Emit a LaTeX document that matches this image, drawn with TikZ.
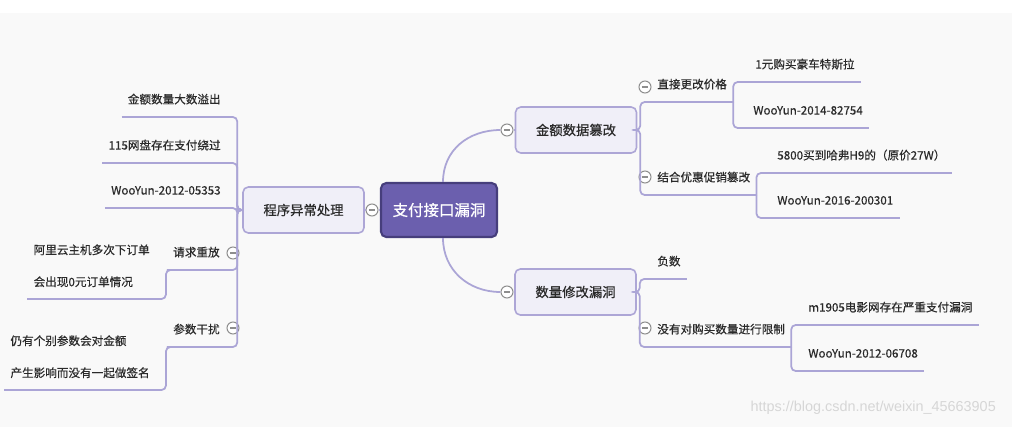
\documentclass[tikz,border=0pt]{standalone}
\usepackage{fontspec}
\newfontfamily\cjk[FakeBold=0.5]{Noto Sans CJK SC}
\newfontfamily\wmfont{Liberation Sans}
\definecolor{bgsoft}{HTML}{F9F9F9}
\definecolor{rootfill}{HTML}{6B5FAE}
\definecolor{rootedge}{HTML}{463E7C}
\definecolor{topicfill}{HTML}{F0EFF8}
\definecolor{topicedge}{HTML}{ADA6D6}
\definecolor{linecol}{HTML}{ABA5D6}
\definecolor{foldgray}{HTML}{8E8E8E}
\definecolor{inkgray}{HTML}{2A2A2A}
\definecolor{markgray}{HTML}{D6D6D6}
\tikzset{
	rootbox/.style={draw=rootedge, fill=rootfill, line width=1.2pt, rounded corners=3pt, minimum width=23.2mm, minimum height=10.8mm, text=white, font=\cjk\fontsize{8.8}{10}\selectfont},
	topicbox/.style={draw=topicedge, fill=topicfill, line width=0.9pt, rounded corners=3pt, minimum width=24.2mm, minimum height=9.2mm, text=inkgray, font=\cjk\fontsize{7.6}{9}\selectfont},
	leafbox/.style={inner xsep=1.2mm, inner ysep=2.2mm, text height=5.4pt, text depth=1.2pt, text=inkgray, font=\cjk\fontsize{6.6}{8}\selectfont},
	leaftwo/.style={inner xsep=1.2mm, inner ysep=2.3mm, align=left, text=inkgray, font=\cjk\fontsize{6.6}{18.2}\selectfont},
	foldbtn/.style={circle, draw=foldgray, fill=white, line width=0.6pt, minimum size=2.4mm, inner sep=0pt, path picture={\draw[foldgray, line width=0.6pt] ([xshift=-0.65mm]path picture bounding box.center) -- ([xshift=0.65mm]path picture bounding box.center);}},
	branchline/.style={draw=linecol, line width=1pt, rounded corners=2.5pt}
}
\begin{document}
\begin{tikzpicture}[x=0.02cm, y=-0.02cm]
	\useasboundingbox (0,0) rectangle (1012,427);
	\fill[white] (0,0) rectangle (1012,427);
	\fill[bgsoft] (0,13) rectangle (1012,427);
	
	\node[rootbox] (root) at (439,210) {支付接口漏洞};
	\node[topicbox] (prog) at (303.5,210) {程序异常处理};
	\node[topicbox] (amt) at (576,130) {金额数据篡改};
	\node[topicbox] (qty) at (575.5,292) {数量修改漏洞};
	
	\node[foldbtn] (f0) at (372,210) {};
	\node[foldbtn] (f1) at (507,130) {};
	\node[foldbtn] (f2) at (507,292) {};
	\node[foldbtn] (f3) at (233,253) {};
	\node[foldbtn] (f4) at (233,328) {};
	\node[foldbtn] (f5) at (645,87) {};
	\node[foldbtn] (f6) at (645,177) {};
	\node[foldbtn] (f7) at (645,328) {};
	
	\node[leafbox, anchor=south east] (l1) at (227,117) {金额数量大数溢出};
	\node[leafbox, anchor=south east] (l2) at (227,163) {115网盘存在支付绕过};
	\node[leafbox, anchor=south east] (l3) at (227,208) {WooYun-2012-05353};
	\node[leafbox, anchor=south east] (l4) at (226,270) {请求重放};
	\node[leafbox, anchor=south east] (l5) at (226,347) {参数干扰};
	\node[leaftwo, anchor=south east] (l4a) at (156,299) {阿里云主机多次下订单\\会出现0元订单情况};
	\node[leaftwo, anchor=south east] (l5a) at (156,390) {仍有个别参数会对金额\\产生影响而没有一起做签名};
	
	\node[leafbox, anchor=south west] (c1) at (651,102) {直接更改价格};
	\node[leafbox, anchor=south west] (c2) at (651,195) {结合优惠促销篡改};
	\node[leafbox, anchor=south west] (c1a) at (749,82) {1元购买豪车特斯拉};
	\node[leafbox, anchor=south west] (c1b) at (747,128) {WooYun-2014-82754};
	\node[leafbox, anchor=south west] (c2a) at (771,173) {5800买到哈弗H9的（原价27W）};
	\node[leafbox, anchor=south west] (c2b) at (771,218) {WooYun-2016-200301};
	\node[leafbox, anchor=south west] (q1) at (651,279) {负数};
	\node[leafbox, anchor=south west] (q2) at (651,347) {没有对购买数量进行限制};
	\node[leafbox, anchor=south west] (q2a) at (802,325) {m1905电影网存在严重支付漏洞};
	\node[leafbox, anchor=south west] (q2b) at (802,371) {WooYun-2012-06708};
	
	\draw[branchline] (root.west) -- (f0.east);
	\draw[branchline] (f0.west) -- (prog.east);
	\draw[branchline] ([xshift=0.8mm]root.north) .. controls +(0,-32) and +(-32,0) .. (f1.west);
	\draw[branchline] ([xshift=0.8mm]root.south) .. controls +(0,32) and +(-32,0) .. (f2.west);
	\draw[branchline] (f1.east) -- (amt.west);
	\draw[branchline] (f2.east) -- (qty.west);
	
	\foreach \n in {l1,l2,l3,l4,l5}
		\draw[branchline] (prog.west) -- ++(-5,0) |- (\n.south east);
	\draw[branchline] (l4.south west) -- ++(-1,0) |- (l4a.south east);
	\draw[branchline] (l5.south west) -- ++(-1,0) |- (l5a.south east);
	
	\foreach \n in {c1,c2}
		\draw[branchline] (amt.east) -- ++(3,0) |- (\n.south west);
	\foreach \n in {q1,q2}
		\draw[branchline] (qty.east) -- ++(3,0) |- (\n.south west);
	\foreach \n in {c1a,c1b}
		\draw[branchline] (c1.south east) |- (\n.south west);
	\foreach \n in {c2a,c2b}
		\draw[branchline] (c2.south east) |- (\n.south west);
	\foreach \n in {q2a,q2b}
		\draw[branchline] (q2.south east) |- (\n.south west);
	
	\foreach \n in {l1,l2,l3,l4,l5,l4a,l5a,c1,c2,c1a,c1b,c2a,c2b,q1,q2,q2a,q2b}
		\draw[branchline] (\n.south west) -- (\n.south east);
	
	\node[text=markgray, font=\wmfont\fontsize{8.2}{10}\selectfont, anchor=east] (mark) at (1002,408) {https://blog.csdn.net/weixin\_45663905};
\end{tikzpicture}
\end{document}
